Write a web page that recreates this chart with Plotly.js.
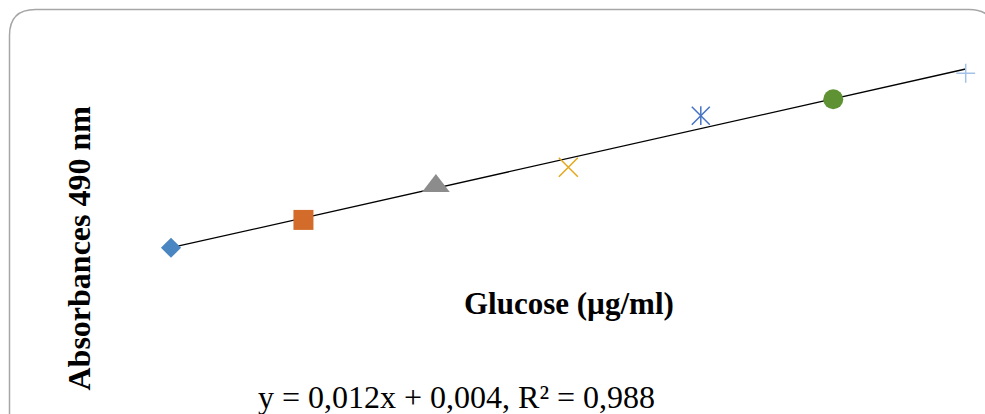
<!DOCTYPE html>
<html>
<head>
<meta charset="utf-8">
<script src="https://cdn.plot.ly/plotly-3.0.1.min.js"></script>
<style>
  html, body { margin: 0; padding: 0; background: #ffffff; }
  #chart { width: 985px; height: 414px; }
</style>
</head>
<body>
<div id="chart"></div>
<script>
// ---- data ----
const glucose = [0, 10, 20, 30, 40, 50, 60];              // µg/ml
const absorbance = [0.004, 0.116, 0.253, 0.328, 0.536, 0.602, 0.707];
const trendX = [0, 60];
const trendY = [0.004, 0.724];
const equationText = 'y = 0,012x + 0,004, R² = 0,988';
const xTitle = 'Glucose (µg/ml)';
const yTitle = 'Absorbances 490 nm';

// ---- styles ----
const styles = [
  { symbol: 'diamond',      color: '#4a86c1', size: 15.5, lw: 0 },
  { symbol: 'square',       color: '#d36b2a', size: 20, lw: 0 },
  { symbol: 'triangle-up',  color: '#8c8c8c', size: 24, lw: 0 },
  { symbol: 'x-thin',       color: '#e5a81c', size: 19, lw: 1.5 },
  { symbol: 'x-thin',       color: '#4472c4', size: 18, lw: 1.5 },
  { symbol: 'circle',       color: '#5e9233', size: 20, lw: 0 },
  { symbol: 'cross-thin',   color: '#a3c2e6', size: 13.5, lw: 1.5 }
];

const traces = [];
traces.push({
  x: trendX, y: trendY, type: 'scatter', mode: 'lines',
  line: { color: '#000000', width: 1.3 }, hoverinfo: 'skip', showlegend: false
});
glucose.forEach((g, i) => {
  const s = styles[i];
  traces.push({
    x: [g], y: [absorbance[i]], type: 'scatter', mode: 'markers', showlegend: false,
    cliponaxis: false,
    marker: {
      symbol: s.symbol, size: s.size,
      color: s.color,
      line: { color: s.color, width: s.lw }
    }
  });
});
// vertical stroke of the asterisk marker (same data point)
traces.push({
  x: [glucose[4]], y: [absorbance[4]], type: 'scatter', mode: 'markers', showlegend: false,
  cliponaxis: false,
  marker: { symbol: 'line-ns', size: 13.5, color: '#4472c4', line: { color: '#4472c4', width: 1.5 } }
});

const L = 100, R = 10, T = 20, B = 124;
const W = 985 - L - R, H = 414 - T - B;
const px = v => (v - L) / W;            // pixel x -> paper
const py = v => (414 - B - v) / H;      // pixel y -> paper

// rounded border (top corners visible, rest beyond the window)
const bx0 = px(9.5), bx1 = px(995), by1 = py(9.5), by0 = py(430);
const rx = 26 / W, ry = 26 / H;
const borderPath =
  `M ${bx0},${by0} V ${by1 - ry} Q ${bx0},${by1} ${bx0 + rx},${by1} ` +
  `H ${bx1 - rx} Q ${bx1},${by1} ${bx1},${by1 - ry} V ${by0}`;

const axisCommon = {
  showgrid: false, zeroline: false, showline: false, showticklabels: false,
  ticks: '', fixedrange: true
};

const serif = 'Liberation Serif, Times New Roman, serif';

const layout = {
  width: 985, height: 414,
  margin: { l: L, r: R, t: T, b: B, pad: 0 },
  paper_bgcolor: '#ffffff', plot_bgcolor: 'rgba(0,0,0,0)',
  xaxis: Object.assign({}, axisCommon, { range: [-5.3605, 60.702] }),
  yaxis: Object.assign({}, axisCommon, { range: [-0.1664, 0.9214] }),
  shapes: [{
    type: 'path', xref: 'paper', yref: 'paper', path: borderPath,
    line: { color: '#a6a6a6', width: 1.5 }, layer: 'below'
  }],
  annotations: [
    {
      text: '<b>' + xTitle + '</b>', xref: 'paper', yref: 'paper',
      x: px(569), y: py(303), xanchor: 'center', yanchor: 'middle', showarrow: false,
      font: { family: serif, size: 31, color: '#000000' }
    },
    {
      text: '<b>' + yTitle + '</b>', xref: 'paper', yref: 'paper', textangle: -90,
      x: px(78), y: py(248.5), xanchor: 'center', yanchor: 'middle', showarrow: false,
      font: { family: serif, size: 32, color: '#000000' }
    },
    {
      text: equationText, xref: 'paper', yref: 'paper',
      x: px(456.5), y: py(397), xanchor: 'center', yanchor: 'middle', showarrow: false,
      font: { family: serif, size: 32, color: '#000000' }
    }
  ]
};

Plotly.newPlot('chart', traces, layout, { displayModeBar: false, staticPlot: true });
</script>
</body>
</html>
